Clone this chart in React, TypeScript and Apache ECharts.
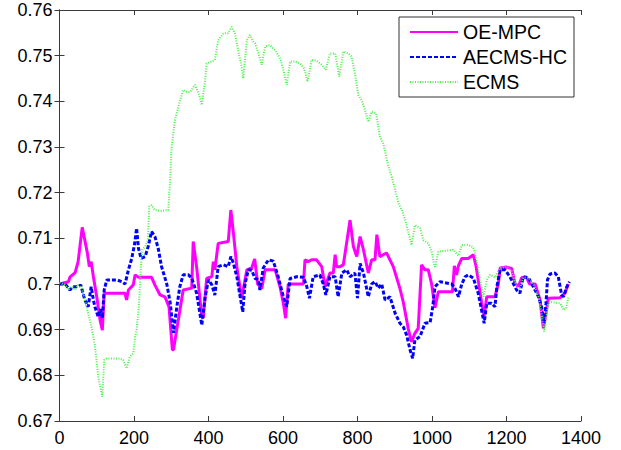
import React, { useEffect, useRef } from "react";
import * as echarts from "echarts";

const seriesNames = ["OE-MPC", "AECMS-HC", "ECMS"];
const xTicks = [0, 200, 400, 600, 800, 1000, 1200, 1400];
const yTicks = [0.67, 0.68, 0.69, 0.7, 0.71, 0.72, 0.73, 0.74, 0.75, 0.76];

const oeX = [0, 24, 28, 42, 50, 61, 68, 75, 80, 85, 91, 100, 109, 115, 120, 176, 180, 185, 198, 203, 212, 247, 256, 270, 283, 294, 303, 306, 319, 332, 355, 359, 368, 382, 386, 395, 409, 413, 417, 426, 453, 460, 467, 476, 489, 503, 516, 524, 532, 543, 552, 579, 592, 601, 607, 614, 655, 659, 668, 677, 690, 704, 713, 726, 735, 740, 744, 753, 762, 780, 789, 798, 807, 816, 829, 838, 847, 852, 860, 869, 878, 896, 914, 923, 936, 945, 954, 963, 972, 981, 990, 999, 1008, 1017, 1055, 1060, 1066, 1071, 1080, 1097, 1111, 1118, 1124, 1133, 1140, 1147, 1169, 1178, 1183, 1200, 1214, 1223, 1232, 1241, 1254, 1262, 1277, 1290, 1299, 1306, 1312, 1344, 1357, 1366];
const oeY = [0.7, 0.7005, 0.7015, 0.7025, 0.7049, 0.7124, 0.7096, 0.7067, 0.7038, 0.7049, 0.7016, 0.6972, 0.6921, 0.6899, 0.698, 0.698, 0.6965, 0.6987, 0.6998, 0.702, 0.7015, 0.7015, 0.6998, 0.6976, 0.6972, 0.695, 0.6856, 0.6856, 0.6921, 0.6987, 0.6991, 0.7093, 0.7038, 0.6928, 0.6926, 0.7012, 0.7016, 0.7049, 0.7031, 0.7089, 0.7093, 0.7162, 0.7111, 0.7038, 0.6969, 0.7031, 0.7035, 0.7055, 0.7, 0.699, 0.7031, 0.7031, 0.6994, 0.6958, 0.6925, 0.7, 0.7, 0.7053, 0.7049, 0.7053, 0.7053, 0.7038, 0.6994, 0.7024, 0.7024, 0.7064, 0.7038, 0.7038, 0.7042, 0.714, 0.7082, 0.706, 0.7104, 0.7075, 0.7024, 0.7053, 0.7053, 0.7108, 0.706, 0.7064, 0.7068, 0.7038, 0.699, 0.696, 0.6903, 0.6873, 0.6892, 0.6903, 0.7042, 0.7031, 0.7031, 0.7, 0.6948, 0.6983, 0.6983, 0.704, 0.702, 0.704, 0.7056, 0.7056, 0.7064, 0.704, 0.7009, 0.696, 0.693, 0.6972, 0.6972, 0.7, 0.7035, 0.7037, 0.7034, 0.7, 0.6995, 0.7014, 0.7014, 0.7, 0.7, 0.6965, 0.6903, 0.6936, 0.6969, 0.697, 0.698, 0.7];

const acX = [0, 15, 28, 35, 50, 57, 68, 77, 85, 91, 95, 104, 110, 115, 120, 127, 154, 167, 176, 185, 194, 201, 207, 212, 219, 230, 238, 247, 256, 265, 274, 288, 297, 306, 315, 323, 332, 346, 355, 368, 382, 391, 400, 409, 417, 426, 440, 453, 460, 467, 476, 485, 492, 498, 507, 516, 525, 534, 538, 547, 561, 574, 587, 601, 610, 619, 637, 655, 664, 671, 681, 699, 708, 715, 726, 740, 748, 758, 771, 780, 793, 800, 807, 816, 829, 838, 847, 856, 865, 874, 887, 901, 914, 923, 932, 941, 948, 954, 968, 981, 995, 1002, 1008, 1021, 1053, 1062, 1071, 1080, 1089, 1097, 1111, 1124, 1133, 1140, 1147, 1160, 1169, 1174, 1183, 1196, 1209, 1227, 1236, 1245, 1259, 1272, 1286, 1294, 1301, 1306, 1310, 1317, 1330, 1339, 1348, 1353, 1362, 1369];
const acY = [0.7, 0.7, 0.6987, 0.6994, 0.6994, 0.6998, 0.6965, 0.695, 0.6994, 0.6965, 0.695, 0.6928, 0.6945, 0.6925, 0.6987, 0.7009, 0.7009, 0.7005, 0.7, 0.7031, 0.7056, 0.7085, 0.7122, 0.7078, 0.7056, 0.706, 0.7082, 0.7115, 0.7104, 0.7078, 0.7038, 0.7, 0.696, 0.6893, 0.695, 0.6994, 0.702, 0.702, 0.7013, 0.698, 0.691, 0.6972, 0.7009, 0.6998, 0.6976, 0.7038, 0.7042, 0.7038, 0.706, 0.7045, 0.7016, 0.6972, 0.6939, 0.7, 0.7031, 0.703, 0.7012, 0.701, 0.6987, 0.7035, 0.7053, 0.705, 0.7016, 0.6972, 0.695, 0.7012, 0.7016, 0.7015, 0.6994, 0.6969, 0.7016, 0.702, 0.7, 0.6976, 0.7016, 0.7016, 0.6972, 0.7024, 0.7031, 0.7016, 0.7024, 0.6969, 0.7045, 0.7024, 0.6972, 0.7, 0.7005, 0.6991, 0.7, 0.6965, 0.6972, 0.6936, 0.6914, 0.6906, 0.6888, 0.6856, 0.6837, 0.6877, 0.6885, 0.6914, 0.6916, 0.695, 0.6994, 0.7005, 0.7, 0.699, 0.6972, 0.7, 0.7016, 0.702, 0.7013, 0.698, 0.6943, 0.6914, 0.6958, 0.6958, 0.695, 0.6994, 0.7031, 0.7031, 0.7016, 0.6987, 0.698, 0.7016, 0.7014, 0.6994, 0.6972, 0.695, 0.6914, 0.6958, 0.7009, 0.7022, 0.7024, 0.7016, 0.6976, 0.6972, 0.6994, 0.7005];

const ecX = [0, 15, 24, 33, 42, 50, 60, 68, 77, 86, 95, 104, 111, 115, 120, 127, 162, 171, 180, 189, 198, 203, 207, 213, 219, 222, 230, 237, 241, 247, 256, 274, 292, 297, 301, 310, 319, 332, 341, 350, 364, 373, 382, 391, 395, 409, 417, 426, 440, 453, 462, 471, 480, 489, 493, 503, 511, 520, 525, 534, 543, 552, 565, 579, 592, 601, 610, 619, 632, 646, 657, 666, 677, 690, 704, 715, 726, 740, 751, 762, 775, 784, 793, 802, 811, 820, 829, 838, 850, 860, 869, 883, 892, 901, 910, 919, 928, 936, 945, 954, 968, 977, 990, 999, 1008, 1017, 1057, 1071, 1080, 1097, 1111, 1120, 1129, 1138, 1147, 1156, 1169, 1183, 1200, 1214, 1227, 1236, 1245, 1259, 1272, 1286, 1294, 1301, 1306, 1312, 1321, 1344, 1353, 1360, 1366];
const ecY = [0.7003, 0.6998, 0.6987, 0.6995, 0.6987, 0.6998, 0.699, 0.6965, 0.6936, 0.6905, 0.6866, 0.6797, 0.6768, 0.6753, 0.6834, 0.6837, 0.6837, 0.6834, 0.6815, 0.6841, 0.6848, 0.6885, 0.69, 0.695, 0.7045, 0.7075, 0.7082, 0.7096, 0.717, 0.7173, 0.7162, 0.716, 0.7162, 0.7228, 0.7301, 0.7359, 0.7388, 0.7425, 0.7421, 0.742, 0.7436, 0.7418, 0.7392, 0.7447, 0.7483, 0.7487, 0.7491, 0.7534, 0.7549, 0.7549, 0.7563, 0.7549, 0.7509, 0.7476, 0.745, 0.7534, 0.7545, 0.7531, 0.7527, 0.7505, 0.748, 0.752, 0.7523, 0.7512, 0.7494, 0.7469, 0.7436, 0.7487, 0.7487, 0.7483, 0.7472, 0.7443, 0.7491, 0.7489, 0.748, 0.7469, 0.7505, 0.7505, 0.7454, 0.7509, 0.7505, 0.7498, 0.7461, 0.7414, 0.7403, 0.7381, 0.7355, 0.7377, 0.7374, 0.7323, 0.7308, 0.7257, 0.7235, 0.7206, 0.7177, 0.7162, 0.714, 0.7115, 0.7085, 0.7129, 0.7122, 0.7096, 0.7089, 0.707, 0.7035, 0.7071, 0.7075, 0.7062, 0.7085, 0.7086, 0.708, 0.7053, 0.7009, 0.6972, 0.7009, 0.702, 0.7014, 0.7035, 0.7038, 0.7028, 0.6994, 0.6988, 0.7014, 0.7014, 0.7, 0.6972, 0.6936, 0.6896, 0.692, 0.6958, 0.696, 0.6958, 0.6943, 0.6946, 0.6972];

const FONT = "'Liberation Sans', Arial, Helvetica, sans-serif";
const AXIS_COLOR = "#3a3a3a";

const pairs = (xs: number[], ys: number[]) => xs.map((x, i) => [x, ys[i]]);

export default function App() {
  const ref = useRef<HTMLDivElement>(null);

  useEffect(() => {
    if (!ref.current) return;
    const chart = echarts.init(ref.current, null, { renderer: "svg" });
    const axisLine = { show: true, lineStyle: { color: AXIS_COLOR, width: 1 } };
    const tick = { show: true, inside: true, length: 5, lineStyle: { color: AXIS_COLOR } };
    const labelStyle = { color: "#000", fontSize: 18, fontFamily: FONT };
    chart.setOption({
      animation: false,
      backgroundColor: "#fff",
      grid: { left: 59.5, right: 40, top: 10, bottom: 29, containLabel: false },
      legend: {
        orient: "vertical",
        left: 399,
        top: 17,
        itemWidth: 48,
        itemHeight: 14,
        itemGap: 5,
        itemTextGap: 6,
        padding: [5, 7, 5, 10],
        borderColor: "#333",
        borderWidth: 1,
        backgroundColor: "#fff",
        itemStyle: { opacity: 0 },
        textStyle: { color: "#000", fontSize: 19.5, fontFamily: FONT },
        data: seriesNames,
      },
      xAxis: [
        {
          type: "value",
          min: xTicks[0],
          max: xTicks[xTicks.length - 1],
          interval: 200,
          axisLine,
          axisTick: tick,
          splitLine: { show: false },
          axisLabel: { ...labelStyle, margin: 8, formatter: (v: number) => String(v) },
        },
        {
          type: "value",
          position: "top",
          min: xTicks[0],
          max: xTicks[xTicks.length - 1],
          interval: 200,
          axisLine,
          axisTick: tick,
          splitLine: { show: false },
          axisLabel: { show: false },
        },
      ],
      yAxis: [
        {
          type: "value",
          min: yTicks[0],
          max: yTicks[yTicks.length - 1],
          interval: 0.01,
          axisLine,
          axisTick: tick,
          splitLine: { show: false },
          axisLabel: {
            ...labelStyle,
            margin: 7,
            formatter: (v: number) => String(parseFloat(v.toFixed(2))),
          },
        },
        {
          type: "value",
          position: "right",
          min: yTicks[0],
          max: yTicks[yTicks.length - 1],
          interval: 0.01,
          axisLine,
          axisTick: tick,
          splitLine: { show: false },
          axisLabel: { show: false },
        },
      ],
      series: [
        {
          name: seriesNames[0],
          type: "line",
          symbol: "none",
          data: pairs(oeX, oeY),
          lineStyle: { color: "#ff00ff", width: 3, type: "solid" },
          itemStyle: { color: "#ff00ff" },
        },
        {
          name: seriesNames[1],
          type: "line",
          symbol: "none",
          data: pairs(acX, acY),
          lineStyle: { color: "#0000ff", width: 3, type: [4, 2] },
          itemStyle: { color: "#0000ff" },
        },
        {
          name: seriesNames[2],
          type: "line",
          symbol: "none",
          data: pairs(ecX, ecY),
          lineStyle: { color: "#4cf04c", width: 2, type: [1, 1.5] },
          itemStyle: { color: "#4cf04c" },
        },
      ],
    });
    return () => chart.dispose();
  }, []);

  return (
    <div
      ref={ref}
      style={{ position: "fixed", left: 0, top: 0, width: 621, height: 450, background: "#fff" }}
    />
  );
}
